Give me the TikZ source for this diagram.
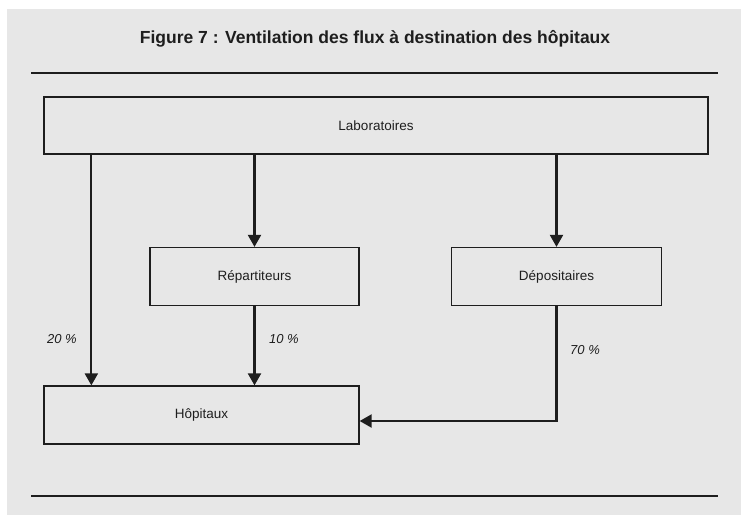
\documentclass[tikz,border=0pt]{standalone}
\usepackage{fontspec}
\setmainfont{Liberation Sans}
\usetikzlibrary{arrows.meta}
\definecolor{bggray}{RGB}{231,231,231}
\definecolor{ink}{RGB}{30,30,30}
\begin{document}
\begin{tikzpicture}[x=1pt, y=-1pt, thick, draw=ink, text=ink,
box node/.style={rectangle,draw=ink,line width=1.3pt,inner sep=0pt,font=\fontsize{13.5}{15}\selectfont},
pct/.style={font=\fontsize{13}{15}\selectfont\itshape},
flow/.style={line width=2.2pt,-{Triangle[length=12pt,width=13pt]}}]
\useasboundingbox (0,0) rectangle (741,515);
\fill[white] (0,0) rectangle (741,515);
\fill[bggray] (7,9) rectangle (741,515);
\begin{scope}
\node[font=\fontsize{17.5}{20}\selectfont\bfseries] (title) at (375,39) {Figure 7 : Ventilation des flux à destination des hôpitaux};
\node[box node,minimum width=664pt,minimum height=57pt] (lab) at (376,125.5) {Laboratoires};
\node[box node,minimum width=209pt,minimum height=58pt] (rep) at (254.5,276.5) {Répartiteurs};
\node[box node,minimum width=210pt,minimum height=58pt] (dep) at (556.5,276.5) {Dépositaires};
\node[box node,minimum width=315pt,minimum height=58pt] (hop) at (201.5,415) {Hôpitaux};
\node[pct] (p20) at (62,339) {20 \%};
\node[pct] (p10) at (284,339) {10 \%};
\node[pct] (p70) at (585,350) {70 \%};
\end{scope}
\begin{scope}
\draw[line width=1.3pt] (31,73) -- (718,73);
\draw[line width=1.3pt] (31,496) -- (718,496);
\draw[flow] ([xshift=48pt]lab.south west) -- ([xshift=48pt]hop.north west);
\draw[flow] (rep.north |- lab.south) -- (rep.north);
\draw[flow] (dep.north |- lab.south) -- (dep.north);
\draw[flow] (rep.south) -- (rep.south |- hop.north);
\draw[flow] (dep.south) |- ([yshift=-6pt]hop.east);
\end{scope}
\end{tikzpicture}
\end{document}
